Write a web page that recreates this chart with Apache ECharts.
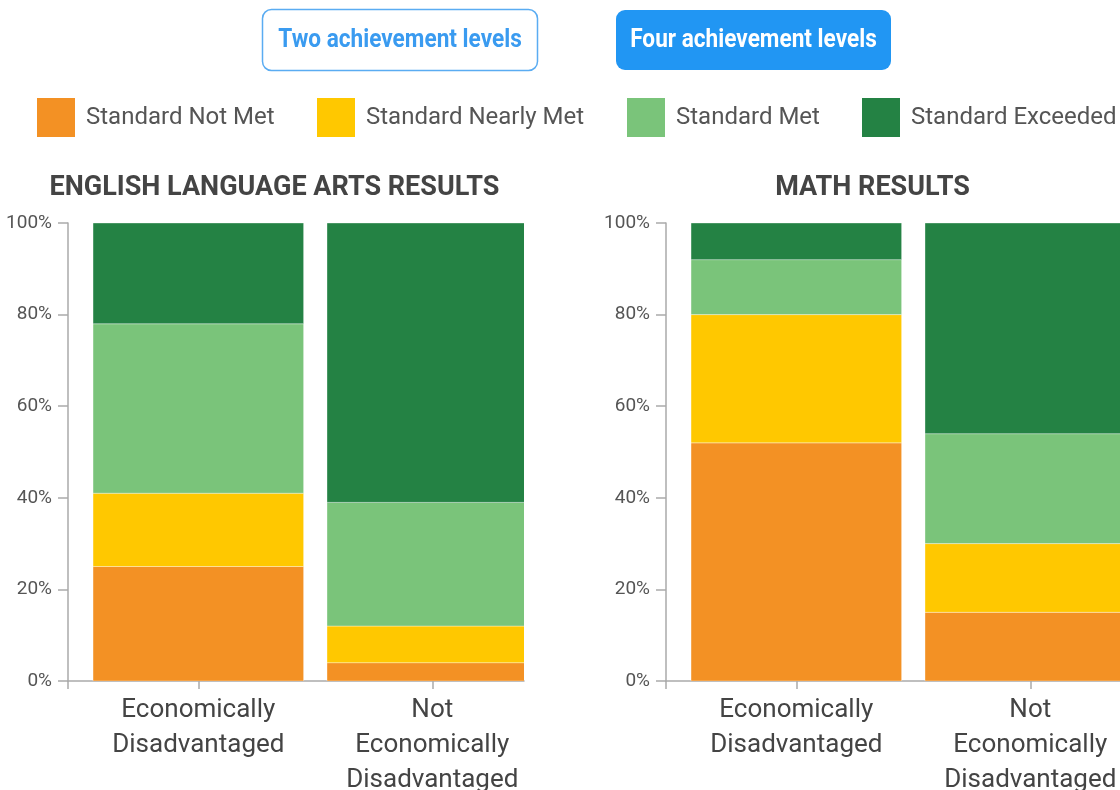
<!DOCTYPE html>
<html>
<head>
<meta charset="utf-8">
<script src="https://cdn.jsdelivr.net/npm/echarts@6/dist/echarts.min.js"></script>
<style>
html,body{margin:0;padding:0;background:#fff;}
#chart{width:1120px;height:790px;}
</style>
</head>
<body>
<div id="chart"></div>
<script>
// ---- data ----
const categories = ['Economically\nDisadvantaged', 'Not\nEconomically\nDisadvantaged'];
const levelNames = ['Standard Not Met', 'Standard Nearly Met', 'Standard Met', 'Standard Exceeded'];
const yTicks = [0, 20, 40, 60, 80, 100];

const elaNotMet    = [25, 4];
const elaNearlyMet = [16, 8];
const elaMet       = [37, 27];
const elaExceeded  = [22, 61];

const mathNotMet    = [52, 15];
const mathNearlyMet = [28, 15];
const mathMet       = [12, 24];
const mathExceeded  = [8, 46];

const titles = ['ENGLISH LANGUAGE ARTS RESULTS', 'MATH RESULTS'];
const buttons = ['Two achievement levels', 'Four achievement levels'];

// ---- styling ----
const colors = ['#F39124', '#FFC800', '#7AC47A', '#248244'];
const FONT = 'Roboto, "Open Sans", sans-serif';
const XMIN = -0.557, XMAX = 1.392;
const BAND_FILL = 0.9;

const elaSets = [elaNotMet, elaNearlyMet, elaMet, elaExceeded];
const mathSets = [mathNotMet, mathNearlyMet, mathMet, mathExceeded];

// build stacked rows [categoryIndex, start, end] for each level
function stackRows(sets) {
  const base = sets[0].map(() => 0);
  return sets.map(vals => vals.map((v, i) => {
    const row = [i, base[i], base[i] + v];
    base[i] += v;
    return row;
  }));
}

const grids = [
  { left: 68, top: 223, width: 456, height: 458, outerBoundsMode: 'none', containLabel: false },
  { left: 666, top: 223, width: 456, height: 458, outerBoundsMode: 'none', containLabel: false }
];

function xAxis(gi) {
  return {
    type: 'value', gridIndex: gi, min: XMIN, max: XMAX,
    splitLine: { show: false },
    axisLine: { show: true, onZero: false, lineStyle: { color: '#aaa', width: 1.5 } },
    axisTick: { show: true, length: 8, customValues: [XMIN, 0, 1], lineStyle: { color: '#aaa', width: 1.5 } },
    axisLabel: {
      customValues: [0, 1],
      formatter: v => categories[Math.round(v)] || '',
      color: '#444', fontFamily: FONT, fontSize: 26, lineHeight: 35, margin: 12
    }
  };
}
function yAxis(gi) {
  return {
    type: 'value', gridIndex: gi, min: 0, max: 100, interval: 20,
    splitLine: { show: false },
    axisLine: { show: true, onZero: false, lineStyle: { color: '#aaa', width: 1.5 } },
    axisTick: { show: true, length: 10, lineStyle: { color: '#aaa', width: 1.5 } },
    axisLabel: { formatter: '{value}%', color: '#555', fontFamily: FONT, fontSize: 19, margin: 16 }
  };
}

function renderBar(params, api) {
  const cat = api.value(0);
  const p0 = api.coord([cat, api.value(1)]);
  const p1 = api.coord([cat, api.value(2)]);
  const w = api.size([BAND_FILL, 0])[0];
  return {
    type: 'rect',
    shape: { x: p0[0] - w / 2, y: p1[1], width: w, height: p0[1] - p1[1] },
    style: api.style({ stroke: 'rgba(255,255,255,0.35)', lineWidth: 1 })
  };
}

const series = [];
[elaSets, mathSets].forEach((sets, gi) => {
  stackRows(sets).forEach((rows, li) => {
    series.push({
      type: 'custom', name: levelNames[li],
      xAxisIndex: gi, yAxisIndex: gi,
      encode: { x: 0, y: [1, 2] },
      data: rows, clip: true,
      renderItem: renderBar,
      itemStyle: { color: colors[li] },
      emphasis: { disabled: true }
    });
  });
});

const legendLefts = [37, 317, 627, 862];
const legends = levelNames.map((n, i) => ({
  data: [n], left: legendLefts[i], top: 98, padding: 0,
  icon: 'rect', itemWidth: 38, itemHeight: 39,
  textStyle: { color: '#555', fontFamily: FONT, fontSize: 24, padding: [0, 0, 0, 6] }
}));

const BTN_FONT = 'bold 26px Roboto, sans-serif';
const graphics = [
  { type: 'rect', shape: { x: 262.5, y: 9.5, width: 275, height: 61, r: 9 },
    style: { fill: '#fff', stroke: '#5AACF2', lineWidth: 1.5 } },
  { type: 'text', x: 400, y: 40, scaleX: 0.87, style: { text: buttons[0], fill: '#3A9BF0',
    font: BTN_FONT, align: 'center', verticalAlign: 'middle' } },
  { type: 'rect', shape: { x: 616, y: 10, width: 275, height: 60, r: 9 },
    style: { fill: '#2196F3' } },
  { type: 'text', x: 753.5, y: 40, scaleX: 0.87, style: { text: buttons[1], fill: '#fff',
    font: BTN_FONT, align: 'center', verticalAlign: 'middle' } },
  { type: 'text', x: 274.5, y: 188, style: { text: titles[0], fill: '#444',
    font: 'bold 27px ' + FONT, align: 'center', verticalAlign: 'middle' } },
  { type: 'text', x: 872.5, y: 188, style: { text: titles[1], fill: '#444',
    font: 'bold 27px ' + FONT, align: 'center', verticalAlign: 'middle' } }
];

const chart = echarts.init(document.getElementById('chart'));
chart.setOption({
  animation: false,
  grid: grids,
  xAxis: [xAxis(0), xAxis(1)],
  yAxis: [yAxis(0), yAxis(1)],
  legend: legends,
  series: series,
  graphic: graphics
});
</script>
</body>
</html>
